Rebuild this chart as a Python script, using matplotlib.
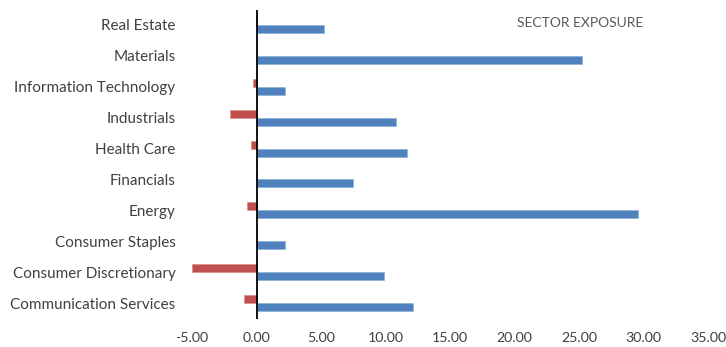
import matplotlib
matplotlib.use("Agg")
import matplotlib.pyplot as plt
import numpy as np

plt.rcParams['font.family'] = ['Lato', 'DejaVu Sans']

categories = ["Communication Services", "Consumer Discretionary", "Consumer Staples",
              "Energy", "Financials", "Health Care", "Industrials",
              "Information Technology", "Materials", "Real Estate"]
long_values = [12.1, 9.85, 2.22, 29.58, 7.47, 11.63, 10.78, 2.22, 25.26, 5.22]
short_values = [-0.96, -5.0, 0.0, -0.75, -0.05, -0.42, -2.07, -0.26, 0.0, -0.05]
x_ticks = [-5, 0, 5, 10, 15, 20, 25, 30, 35]
title = "SECTOR EXPOSURE"

blue = "#4F81BD"
red = "#C0504D"
text_color = "#404040"

fig = plt.figure(figsize=(7.26, 3.47), dpi=100)
ax = fig.add_axes([0.2647, 0.0821, 0.9751 - 0.2647, 0.9726 - 0.0821])

y = np.arange(len(categories))
h = 0.26
ax.barh(y - h / 2, long_values, height=h, color=blue, edgecolor="#8EB0DA", linewidth=0.5)
ax.barh(y + h / 2, short_values, height=h, color=red, edgecolor="#D98C8A", linewidth=0.5)

ax.set_xlim(-5, 35)
ax.set_ylim(-0.5, len(categories) - 0.5)
ax.set_xticks(x_ticks)
ax.set_xticklabels([f"{v:.2f}" for v in x_ticks])
ax.set_yticks(y)
ax.set_yticklabels(categories)
ax.tick_params(axis="both", length=0, colors=text_color)
ax.tick_params(axis="y", pad=12, labelsize=11)
ax.tick_params(axis="x", pad=10, labelsize=10.2)
for s in ax.spines.values():
    s.set_visible(False)
ax.axvline(0, color="black", linewidth=1.3, zorder=3)

fig.text(0.799, 0.9346, title, ha="center", va="center", fontsize=10, color="#595959")

fig.savefig("out.png", dpi=100)
